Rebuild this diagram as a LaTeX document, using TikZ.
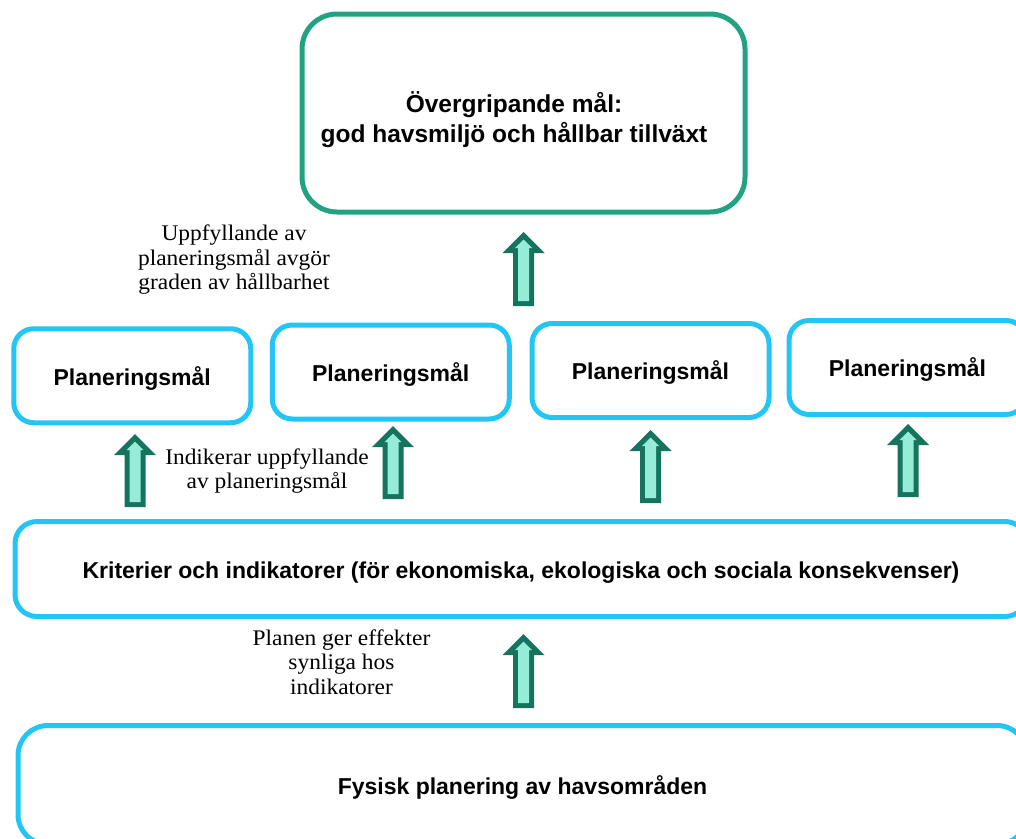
\documentclass[tikz,border=0pt]{standalone}
\usepackage{fontspec}
\setmainfont{Liberation Serif}[FakeStretch=1.05]
\setsansfont{Liberation Sans}
\definecolor{boxblue}{RGB}{34,197,243}
\definecolor{topteal}{RGB}{33,163,130}
\definecolor{arrowdark}{RGB}{22,115,93}
\definecolor{arrowmint}{RGB}{149,236,215}
\tikzset{
  pbox/.style={draw=boxblue, line width=5pt, rounded corners=20pt, minimum width=237pt, minimum height=94pt, inner sep=0pt,
    text height=21pt, text depth=2.4pt,
    font=\fontsize{23}{27}\selectfont\sffamily\bfseries},
  widebox/.style={draw=boxblue, line width=5pt, inner sep=0pt,
    text height=21pt, text depth=2.4pt,
    font=\fontsize{23}{27}\selectfont\sffamily\bfseries},
  topbox/.style={draw=topteal, line width=5pt, rounded corners=35pt, minimum width=443pt, minimum height=198pt, inner sep=0pt},
  toptext/.style={align=center, inner sep=0pt, font=\fontsize{24.5}{30}\selectfont\sffamily\bfseries},
  lbl/.style={align=center, inner sep=0pt, font=\fontsize{22.3}{24.5}\selectfont\rmfamily}
}
\newcommand\blockarrow[3]{%
  \fill[arrowdark] (#1,#2) -- ({#1+21},{#2+21}) -- ({#1+10.5},{#2+21}) -- ({#1+10.5},#3)
     -- ({#1-10.5},#3) -- ({#1-10.5},{#2+21}) -- ({#1-21},{#2+21}) -- cycle;
  \fill[arrowmint] (#1,{#2+7.5}) -- ({#1+8.5},{#2+16}) -- ({#1+5.5},{#2+16}) -- ({#1+5.5},{#3-5})
     -- ({#1-5.5},{#3-5}) -- ({#1-5.5},{#2+16}) -- ({#1-8.5},{#2+16}) -- cycle;
}
\begin{document}
\begin{tikzpicture}[x=1pt,y=-1pt]
\useasboundingbox (0,0) rectangle (1016,838);
\clip (0,0) rectangle (1016,838);
\fill[white] (0,0) rectangle (1016,838);
% top goal
\node[topbox] (top) at (523.5,113) {};
\node[toptext] (toptxt) at (514,120) {Övergripande mål:\\god havsmiljö och hållbar tillväxt};
% planning goals
\node[pbox] (p1) at (132.25,375.75) {Planeringsmål};
\node[pbox] (p2) at (390.75,372) {Planeringsmål};
\node[pbox] (p3) at (650.5,370.5) {Planeringsmål};
\node[pbox] (p4) at (907.5,367.5) {Planeringsmål};
% criteria
\node[widebox, rounded corners=22pt, minimum width=1012pt, minimum height=95pt] (crit) at (521,569)
  {Kriterier och indikatorer (för ekonomiska, ekologiska och sociala konsekvenser)};
% physical planning
\node[widebox, rounded corners=30pt, minimum width=1009pt, minimum height=119pt] (fys) at (522.5,785)
  {Fysisk planering av havsområden};
% block arrows
\blockarrow{523.5}{232}{306}
\blockarrow{135}{434}{507}
\blockarrow{393}{426}{499}
\blockarrow{650.5}{430}{503}
\blockarrow{908}{424}{497}
\blockarrow{523.5}{634}{708}
% labels
\node[lbl] (l1) at (234,260) {Uppfyllande av\\planeringsmål avgör\\graden av hållbarhet};
\node[lbl] (l2) at (267,471) {Indikerar uppfyllande\\av planeringsmål};
\node[lbl] (l3) at (341.5,662) {Planen ger effekter\\synliga hos\\indikatorer};
\end{tikzpicture}
\end{document}
